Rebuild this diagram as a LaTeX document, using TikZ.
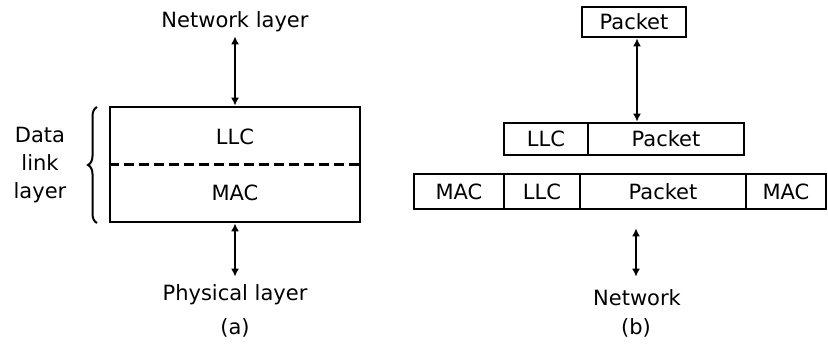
\documentclass[tikz,border=0pt]{standalone}
\usepackage{fontspec}
\setmainfont{DejaVu Sans}
\usetikzlibrary{arrows.meta,decorations.pathreplacing}
\begin{document}
\begin{tikzpicture}[x=1pt,y=-1pt,
  every node/.style={font=\fontsize{21}{24}\selectfont, inner sep=0pt},
  lbl/.style={},
  cell/.style={draw, line width=2.7pt, rectangle},
  link/.style={line width=2.6pt, {Latex[length=8pt,width=8pt]}-{Latex[length=8pt,width=8pt]}},
]
\useasboundingbox (0,0) rectangle (828,356);
% (a)
\node[lbl] (nl) at (235,22) {Network layer};
\node[cell, minimum width=250pt, minimum height=115pt] (dl) at (235,164.5) {};
\node[lbl] (llc) at (235,137) {LLC};
\node[lbl] (mac) at (235,193) {MAC};
\draw[line width=2.4pt, dash pattern=on 10pt off 5pt] (dl.west) -- (dl.east);
\node[lbl] (pl) at (235,295) {Physical layer};
\node[lbl] (ca) at (235,328) {(a)};
\node[lbl, align=center] (dll) at (40,165) {Data\\[4pt]link\\[4pt]layer};
\coordinate (bt) at (97,107);
\coordinate (bb) at (97,223);
\draw[line width=2pt, decorate, decoration={brace, amplitude=9pt}] (bb) -- (bt);
\draw[link, shorten <=4pt] (nl.south) -- (dl.north);
\draw[link, shorten >=8pt] (dl.south) -- (pl.north);
% (b)
\node[cell, minimum width=104pt, minimum height=30pt] (p0) at (634,22) {Packet};
\node[cell, minimum width=84pt, minimum height=32pt] (l1) at (546,139) {LLC};
\node[cell, minimum width=156pt, minimum height=32pt] (p1) at (666,139) {Packet};
\node[cell, minimum width=90pt, minimum height=35pt] (m2) at (459,191.5) {MAC};
\node[cell, minimum width=76pt, minimum height=35pt] (l2) at (542,191.5) {LLC};
\node[cell, minimum width=166pt, minimum height=35pt] (p2) at (663,191.5) {Packet};
\node[cell, minimum width=80pt, minimum height=35pt] (m3) at (786,191.5) {MAC};
\node[lbl] (nw) at (637,298) {Network};
\node[lbl] (cb) at (636,328) {(b)};
\draw[link] (p0.south -| 637,0) -- (p1.north -| 637,0);
\draw[link, shorten <=18pt, shorten >=13pt] (p2.south -| 636,0) -- (nw.north -| 636,0);
\end{tikzpicture}
\end{document}
